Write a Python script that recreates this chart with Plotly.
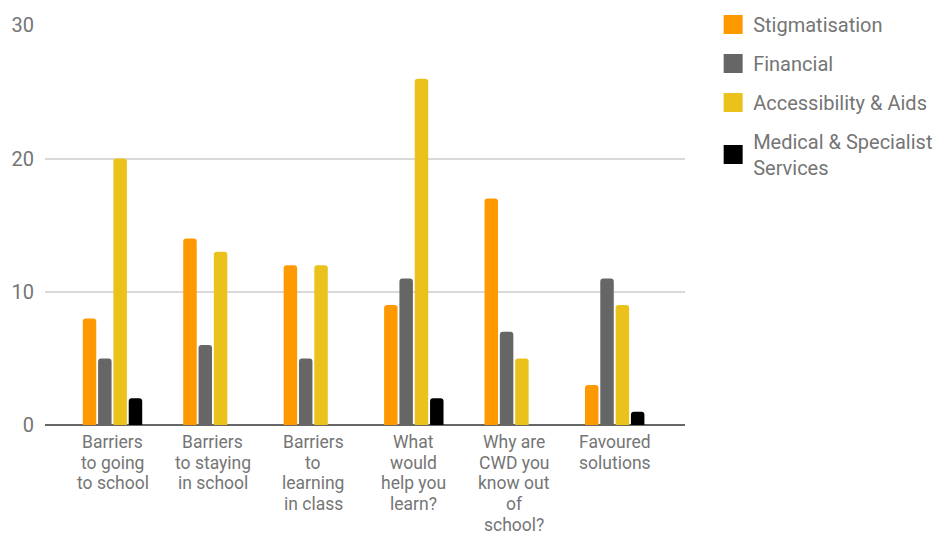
import plotly.graph_objects as go

categories = [
    "Barriers<br>to going<br>to school",
    "Barriers<br>to staying<br>in school",
    "Barriers<br>to<br>learning<br>in class",
    "What<br>would<br>help you<br>learn?",
    "Why are<br>CWD you<br>know out<br>of<br>school?",
    "Favoured<br>solutions",
]
series_names = ["Stigmatisation", "Financial", "Accessibility & Aids", "Medical & Specialist<br>Services"]
stigmatisation = [8, 14, 12, 9, 17, 3]
financial = [5, 6, 5, 11, 7, 11]
accessibility = [20, 13, 12, 26, 5, 9]
medical = [2, 0, 0, 2, 0, 1]
colors = ["#FF9900", "#666666", "#EBC11C", "#000000"]
y_ticks = [0, 10, 20, 30]

FONT = "Roboto, Arial, sans-serif"
TXT = "#757575"
LABEL_SIZE = 17.5
LINE_STEP = 20.7
LEGEND_SIZE = 20

fig = go.Figure()
for i, (name, vals, col) in enumerate(zip(series_names, [stigmatisation, financial, accessibility, medical], colors)):
    fig.add_trace(go.Bar(x=list(range(len(categories))), y=vals, name=name,
                         marker=dict(color=col, line=dict(width=0)), showlegend=False))
    fig.add_trace(go.Scatter(x=[None], y=[None], mode="markers", name=name, legendgroup=f"g{i}",
                             marker=dict(symbol="square", size=16, color=col,
                                         line=dict(color=col, width=3))))

# category labels, one annotation per line for tight line spacing
for ci, cat in enumerate(categories):
    for li, line in enumerate(cat.split("<br>")):
        fig.add_annotation(x=ci, y=0, xref="x", yref="paper", text=line, showarrow=False,
                           xanchor="center", yanchor="top", yshift=-(6 + li * LINE_STEP),
                           borderpad=0,
                           font=dict(family=FONT, size=LABEL_SIZE, color=TXT))

fig.update_layout(
    width=944, height=536,
    margin=dict(l=37, r=267, t=17, b=119, autoexpand=False),
    paper_bgcolor="white", plot_bgcolor="white",
    barmode="group", bargap=0.39, bargroupgap=0.12, barcornerradius=3,
    font=dict(family=FONT, color=TXT, size=LABEL_SIZE),
    legend=dict(x=1.044, y=1.05, xanchor="left", yanchor="top",
                font=dict(size=LEGEND_SIZE, color=TXT), tracegroupgap=10, itemsizing="trace",
                bgcolor="rgba(0,0,0,0)"),
    xaxis=dict(range=[-0.672, 5.70], showticklabels=False,
               showgrid=False, zeroline=False, showline=False, ticks=""),
    yaxis=dict(range=[0, 30.03], tickvals=y_ticks, showgrid=True, gridcolor="#D9D9D9", gridwidth=1.5,
               zeroline=True, zerolinecolor="#666666", zerolinewidth=2,
               showline=False, ticks="", ticklabelstandoff=10,
               tickfont=dict(size=20, color=TXT)),
)
fig.write_html("out.html")
